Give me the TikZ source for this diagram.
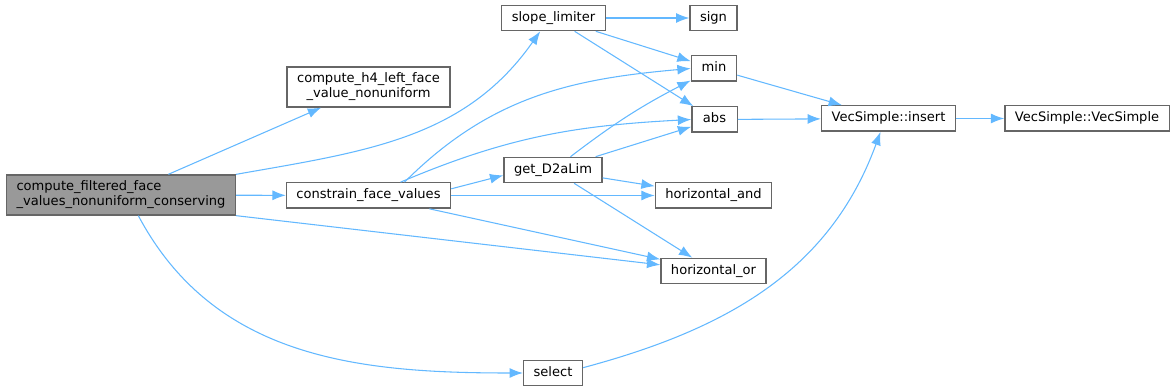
\documentclass[tikz,border=0pt]{standalone}
\usepackage{fontspec}
\setmainfont{DejaVu Sans}
\usetikzlibrary{arrows.meta}
\definecolor{callblue}{HTML}{63B8FF}
\definecolor{boxline}{HTML}{666666}
\definecolor{rootfill}{HTML}{999999}
\begin{document}
\begin{tikzpicture}[x=0.75pt, y=-0.75pt, font=\fontsize{9.8}{11.3}\selectfont,
  >={Latex[length=10pt,width=7.5pt]},
  fn/.style={draw=boxline, line width=1pt, fill=white, minimum height=19pt, minimum width=34pt,
    inner xsep=7.5pt, text height=7.2pt, text depth=2.4pt},
  fntwo/.style={draw=boxline, line width=1pt, fill=white, minimum height=30pt, inner xsep=7.5pt, inner ysep=2pt},
  call/.style={->, draw=callblue, line width=0.8pt}]
\useasboundingbox (0,0) rectangle (1176,391);
% nodes
\node[fntwo, fill=rootfill, align=left] (root) at (121,195) {compute\_filtered\_face\\\_values\_nonuniform\_conserving};
\node[fntwo, align=center] (h4)  at (368.5,87)  {compute\_h4\_left\_face\\\_value\_nonuniform};
\node[fn] (cfv)   at (368.5,195.5) {constrain\_face\_values};
\node[fn] (slope) at (553.5,18)    {slope\_limiter};
\node[fn] (sign)  at (713.5,18)    {sign};
\node[fn] (min)   at (714,68.5)    {min};
\node[fn] (abs)   at (714.5,119.5) {abs};
\node[fn] (d2a)   at (553,170)     {get\_D2aLim};
\node[fn] (hand)  at (713.5,195.5) {horizontal\_and};
\node[fn] (hor)   at (713.5,271)   {horizontal\_or};
\node[fn] (sel)   at (553,373)     {select};
\node[fn] (ins)   at (888.5,118.5) {VecSimple::insert};
\node[fn] (vcs)   at (1087,118.5)  {VecSimple::VecSimple};
% calls
\draw[call] (root) -- (h4);
\draw[call] (root.north east) to[out=10,in=-125] ([xshift=-10pt]slope.south);
\draw[call] (root) -- (cfv);
\draw[call] (root.south east) -- (hor);
\draw[call] ([xshift=13pt]root.south) to[out=-62,in=180] (sel.west);
\draw[call] ([xshift=27pt]cfv.north) to[out=45,in=185] (min.west);
\draw[call] ([xshift=24pt]cfv.north) to[out=23,in=183] (abs.west);
\draw[call] ([yshift=5pt]cfv.east) -- ([yshift=-4pt]d2a.west);
\draw[call] (cfv) -- (hand);
\draw[call] (cfv) -- (hor);
\draw[call] (slope) -- (sign);
\draw[call] (slope) -- (min);
\draw[call] (slope) -- (abs);
\draw[call] (d2a) to[bend left=5] (min);
\draw[call] (d2a) -- (abs);
\draw[call] (d2a) -- (hand);
\draw[call] (d2a) -- (hor);
\draw[call] (min) -- (ins);
\draw[call] (abs) -- (ins);
\draw[call] (sel.10) to[out=15,in=-110] ([xshift=-6pt]ins.south);
\draw[call] (ins) -- (vcs);
\end{tikzpicture}
\end{document}
